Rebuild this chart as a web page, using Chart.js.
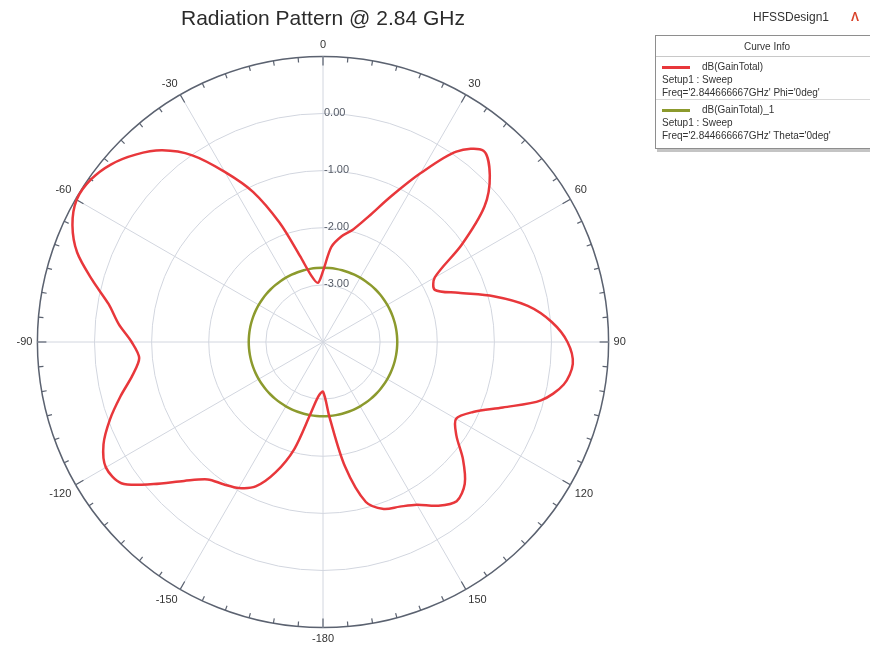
<!DOCTYPE html>
<html>
<head>
<meta charset="utf-8">
<script src="https://cdn.jsdelivr.net/npm/chart.js@4.4.1/dist/chart.umd.min.js"></script>
<style>
  body { margin: 0; background: #fff; }
  #wrap { position: relative; width: 870px; height: 652px; overflow: hidden; font-family: "Liberation Sans", Arial, sans-serif; }
  #design { position: absolute; left: 753px; top: 10px; font-size: 12px; color: #333; }
  #design span { color: #d9432b; margin-left: 22px; font-weight: bold; }
  #curveInfo { position: absolute; left: 655px; top: 35px; width: 222px; height: 112px; border: 1px solid #8e8e8e; background: #fff; box-shadow: 2px 3px 0 #c4c4c4; font-size: 10px; color: #333; }
  #curveInfo .head { height: 20px; line-height: 21px; text-align: center; border-bottom: 1px solid #c8c8c8; }
  #curveInfo .entry { position: relative; padding: 3px 0 0 6px; line-height: 13px; }
  #curveInfo .entry + .entry { border-top: 1px solid #d8d8d8; }
  #curveInfo .sw { display: inline-block; width: 28px; height: 3px; vertical-align: middle; margin-right: 12px; }
</style>
</head>
<body>
<div id="wrap">
  <canvas id="polarChart" width="870" height="652"></canvas>
  <div id="design">HFSSDesign1<span>&#923;</span></div>
  <div id="curveInfo">
    <div class="head">Curve Info</div>
    <div class="entry">
      <div><span class="sw" style="background:#e8373b"></span>dB(GainTotal)</div>
      <div>Setup1 : Sweep</div>
      <div>Freq='2.844666667GHz' Phi='0deg'</div>
    </div>
    <div class="entry">
      <div><span class="sw" style="background:#8c9a2d"></span>dB(GainTotal)_1</div>
      <div>Setup1 : Sweep</div>
      <div>Freq='2.844666667GHz' Theta='0deg'</div>
    </div>
  </div>
</div>
<script>
// angle (deg) of each sample, clockwise from top
const angles = [
  0, 5, 10, 15, 20, 25, 30, 35, 40, 45, 50, 55,
  60, 65, 70, 75, 80, 85, 90, 95, 100, 105, 110, 115,
  120, 125, 130, 135, 140, 145, 150, 155, 160, 165, 170, 175,
  -180, -175, -170, -165, -160, -155, -150, -145, -140, -135, -130, -125,
  -120, -115, -110, -105, -100, -95, -90, -85, -80, -75, -70, -65,
  -60, -55, -50, -45, -40, -35, -30, -25, -20, -15, -10, -5
];

// dB(GainTotal), Phi = 0deg
const gainPhi0 = [
  -2.76, -2.33, -2.12, -1.96, -1.66, -1.19, -0.59, 0.07, 0.37, 0.13, -0.31, -1.04,
  -1.74, -1.84, -1.48, -0.91, -0.36, 0.02, 0.28, 0.39, 0.28, -0.05, -0.65, -1.10,
  -1.31, -1.15, -0.80, -0.49, -0.36, -0.50, -0.71, -0.82, -0.89, -1.10, -1.79, -2.67,
  -3.13, -3.04, -2.71, -2.06, -1.57, -1.21, -1.05, -0.96, -0.86, -0.56, -0.13, 0.31,
  0.39, 0.24, -0.03, -0.33, -0.61, -0.77, -0.65, -0.41, -0.19, 0.18, 0.58, 0.84,
  0.98, 0.96, 0.84, 0.64, 0.38, -0.01, -0.56, -1.10, -1.78, -2.44, -2.82, -2.96
];

// dB(GainTotal)_1, Theta = 0deg
const gainTheta0 = [
  -2.70, -2.70, -2.70, -2.70, -2.70, -2.70, -2.70, -2.70, -2.70, -2.70, -2.70, -2.70,
  -2.70, -2.70, -2.70, -2.70, -2.70, -2.70, -2.70, -2.70, -2.70, -2.70, -2.70, -2.70,
  -2.70, -2.70, -2.70, -2.70, -2.70, -2.70, -2.70, -2.70, -2.70, -2.70, -2.70, -2.70,
  -2.70, -2.70, -2.70, -2.70, -2.70, -2.70, -2.70, -2.70, -2.70, -2.70, -2.70, -2.70,
  -2.70, -2.70, -2.70, -2.70, -2.70, -2.70, -2.70, -2.70, -2.70, -2.70, -2.70, -2.70,
  -2.70, -2.70, -2.70, -2.70, -2.70, -2.70, -2.70, -2.70, -2.70, -2.70, -2.70, -2.70
];

const ringValues = [0, -1, -2, -3];
const ringLabels = ['0.00', '-1.00', '-2.00', '-3.00'];

Chart.defaults.font.family = '"Liberation Sans", Arial, sans-serif';

// outer rim ticks every 5 deg and the dB ring labels
const polarDecor = {
  id: 'polarDecor',
  beforeDatasetsDraw(chart) {
    const scale = chart.scales.r;
    const ctx = chart.ctx;
    const outer = scale.getDistanceFromCenterForValue(scale.max);
    ctx.save();
    ctx.strokeStyle = '#5b6270';
    ctx.lineWidth = 1.2;
    angles.forEach((a, i) => {
      const len = a % 30 === 0 ? 9 : 5;
      const p1 = scale.getPointPosition(i, outer);
      const p2 = scale.getPointPosition(i, outer - len);
      ctx.beginPath();
      ctx.moveTo(p1.x, p1.y);
      ctx.lineTo(p2.x, p2.y);
      ctx.stroke();
    });
    ctx.restore();
  },
  afterDatasetsDraw(chart) {
    const scale = chart.scales.r;
    const ctx = chart.ctx;
    ctx.save();
    ctx.font = '11px "Liberation Sans", Arial, sans-serif';
    ctx.fillStyle = '#555b66';
    ctx.textAlign = 'left';
    ctx.textBaseline = 'middle';
    ringValues.forEach((v, k) => {
      const d = scale.getDistanceFromCenterForValue(v);
      ctx.fillText(ringLabels[k], scale.xCenter + 1, scale.yCenter - d - 1);
    });
    ctx.restore();
  }
};

new Chart(document.getElementById('polarChart'), {
  type: 'radar',
  data: {
    labels: angles,
    datasets: [{
      label: 'dB(GainTotal)',
      data: gainPhi0,
      borderColor: '#e8373b',
      borderWidth: 2.5,
      pointRadius: 0,
      fill: false,
      tension: 0.3
    }, {
      label: 'dB(GainTotal)_1',
      data: gainTheta0,
      borderColor: '#8c9a2d',
      borderWidth: 2.5,
      pointRadius: 0,
      fill: false,
      tension: 0.3
    }]
  },
  options: {
    responsive: false,
    animation: false,
    devicePixelRatio: 1,
    layout: { padding: { right: 224, bottom: 5 } },
    plugins: {
      legend: { display: false },
      tooltip: { enabled: false },
      title: {
        display: true,
        text: 'Radiation Pattern @ 2.84 GHz',
        color: '#2b2b2b',
        font: { size: 21, weight: 'normal' },
        padding: { top: 7, bottom: 6 }
      }
    },
    scales: {
      r: {
        min: -4,
        max: 1,
        startAngle: 0,
        ticks: { stepSize: 1, display: false },
        grid: {
          circular: true,
          color: (c) => c.tick && c.tick.value === 1 ? '#5b6270' : '#d2d6df',
          lineWidth: (c) => c.tick && c.tick.value === 1 ? 1.5 : 1
        },
        angleLines: {
          color: '#d2d6df',
          lineWidth: (c) => angles[c.index] % 30 === 0 ? 1 : 0
        },
        pointLabels: {
          color: '#333',
          font: { size: 11 },
          padding: 5,
          callback: (label) => label % 30 === 0 ? String(label) : ''
        }
      }
    }
  },
  plugins: [polarDecor]
});
</script>
</body>
</html>
